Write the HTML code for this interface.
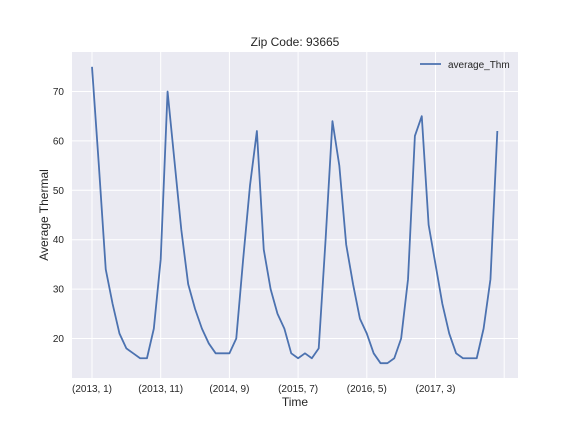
<!DOCTYPE html>
<html><head><meta charset="utf-8"><style>
body{margin:0;background:#fff;font-family:"Liberation Sans",sans-serif}
</style></head><body>
<svg width="576" height="432" xmlns="http://www.w3.org/2000/svg" id="c">
<rect width="576" height="432" fill="#fff"/>
<rect x="72" y="52" width="446" height="326" fill="#eaeaf2"/>
<g id="grid"></g>
<text x="295" y="46" text-anchor="middle" font-size="12" fill="#262626">Zip Code: 93665</text>
<text x="295" y="406" text-anchor="middle" font-size="12" fill="#262626">Time</text>
<text transform="translate(48,215) rotate(-90)" text-anchor="middle" font-size="12" fill="#262626">Average Thermal</text>
<g id="series"></g>
<g>
<line x1="420" y1="64" x2="441" y2="64" stroke="#4c72b0" stroke-width="1.8"/>
<text x="448" y="68" font-size="10" fill="#262626">average_Thm</text>
</g>
</svg>
<script>
const values=[75,55,34,27,21,18,17,16,16,22,36,70,56,42,31,26,22,19,17,17,17,20,36,51,62,38,30,25,22,17,16,17,16,18,40,64,55,39,31,24,21,17,15,15,16,20,32,61,65,43,35,27,21,17,16,16,16,22,32,62];
const xTickIdx=[0,10,20,30,40,50,60];
const xTickLabels=["(2013, 1)","(2013, 11)","(2014, 9)","(2015, 7)","(2016, 5)","(2017, 3)",""];
const yTicks=[20,30,40,50,60,70];
const NS="http://www.w3.org/2000/svg";
const X=i=>92+i*6.87;
const Y=v=>338.5-(v-20)*4.94;
const grid=document.getElementById('grid');
function mk(t,a,p){const e=document.createElementNS(NS,t);for(const k in a)e.setAttribute(k,a[k]);p.appendChild(e);return e;}
xTickIdx.forEach((i,k)=>{
 const l=mk('line',{x1:X(i),x2:X(i),y1:52,y2:378,stroke:'#fff','stroke-width':1},grid);
 
 
 const t=mk('text',{x:X(i),y:392,'text-anchor':'middle','font-size':10,fill:'#262626'},grid);
 t.textContent=xTickLabels[k];
 
 
});
yTicks.forEach(v=>{
 const l=mk('line',{x1:72,x2:518,y1:Y(v),y2:Y(v),stroke:'#fff','stroke-width':1},grid);
 
 
 const t=mk('text',{x:64,y:Y(v)+3.5,'text-anchor':'end','font-size':10,fill:'#262626'},grid);
 t.textContent=v;
 
 
});
const p=mk('polyline',{points:values.map((v,i)=>X(i)+','+Y(v)).join(' '),fill:'none',stroke:'#4c72b0','stroke-width':1.8,'stroke-linejoin':'round'},document.getElementById('series'));


</script>
</body></html>
